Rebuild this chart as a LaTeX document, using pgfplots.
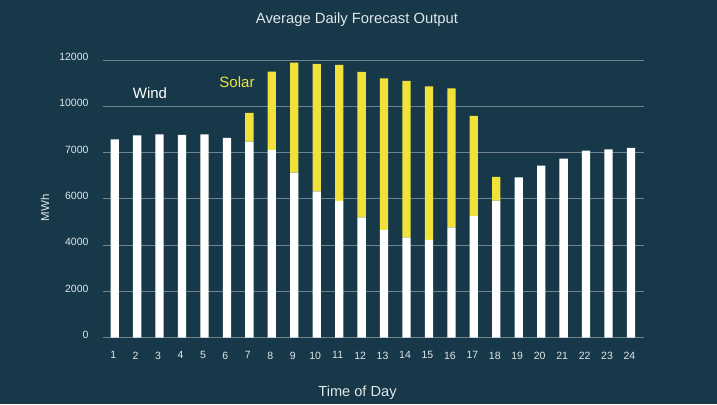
\documentclass[border=0pt]{standalone}
\usepackage{pgfplots}
\pgfplotsset{compat=1.18}
\usepackage{fontspec}
\setmainfont{Liberation Sans}
\definecolor{bg}{RGB}{22,56,72}
\definecolor{solar}{RGB}{240,226,58}
\definecolor{gridc}{RGB}{112,132,142}
\definecolor{txt}{RGB}{225,230,232}
\begin{document}
\begin{tikzpicture}[x=1pt,y=1pt]
\fill[bg] (0,0) rectangle (717,404);
\begin{axis}[at={(103pt,66.3pt)}, anchor=south west, scale only axis,
  width=541pt, height=277.7pt,
  ybar stacked, bar width=8.3pt,
  xmin=0.48, xmax=24.58, ymin=0, ymax=12000,
  axis line style={draw=none}, tick style={draw=none},
  ytick={0,2000,4000,6000,8000,10000,12000},
  yticklabels={0,2000,4000,6000,7000,10000,12000},
  scaled y ticks=false,
  xtick={1,...,24},
  ymajorgrids, grid style={gridc, line width=0.8pt},
  ticklabel style={font=\fontsize{10.5}{12}\selectfont, text=txt},
  /pgf/number format/assume math mode=true,
  yticklabel style={xshift=-11pt, yshift=3pt},
  xticklabel style={xshift=-1.5pt, yshift=-10.5pt},
  clip=false]
\addplot[fill=white, draw=none] coordinates {
(1,8575) (2,8747) (3,8790) (4,8761) (5,8790) (6,8631) (7,8471) (8,8112)
(9,7131) (10,6327) (11,5908) (12,5203) (13,4655) (14,4339) (15,4223) (16,4771)
(17,5260) (18,5921) (19,6932) (20,7434) (21,7737) (22,8082) (23,8142) (24,8199)};
\addplot[fill=solar, draw=none] coordinates {
(1,0) (2,0) (3,0) (4,0) (5,0) (6,0) (7,1240) (8,3385)
(9,4755) (10,5502) (11,5878) (12,6280) (13,6556) (14,6756) (15,6642) (16,6008)
(17,4322) (18,1024) (19,0) (20,0) (21,0) (22,0) (23,0) (24,0)};
\end{axis}
\node[text=txt, font=\fontsize{14.8}{16}\selectfont] at (357,384) {Average Daily Forecast Output};
\node[text=txt, font=\fontsize{14.6}{16}\selectfont] at (357.5,11) {Time of Day};
\node[text=txt, font=\fontsize{11.5}{13}\selectfont, rotate=90] at (45,196) {MWh};
\node[text=white, font=\fontsize{15}{17}\selectfont] at (150,311) {Wind};
\node[text=solar, font=\fontsize{15}{17}\selectfont] at (237,322) {Solar};
\pgfresetboundingbox
\useasboundingbox (0,0) rectangle (717,404);
\end{tikzpicture}
\end{document}
